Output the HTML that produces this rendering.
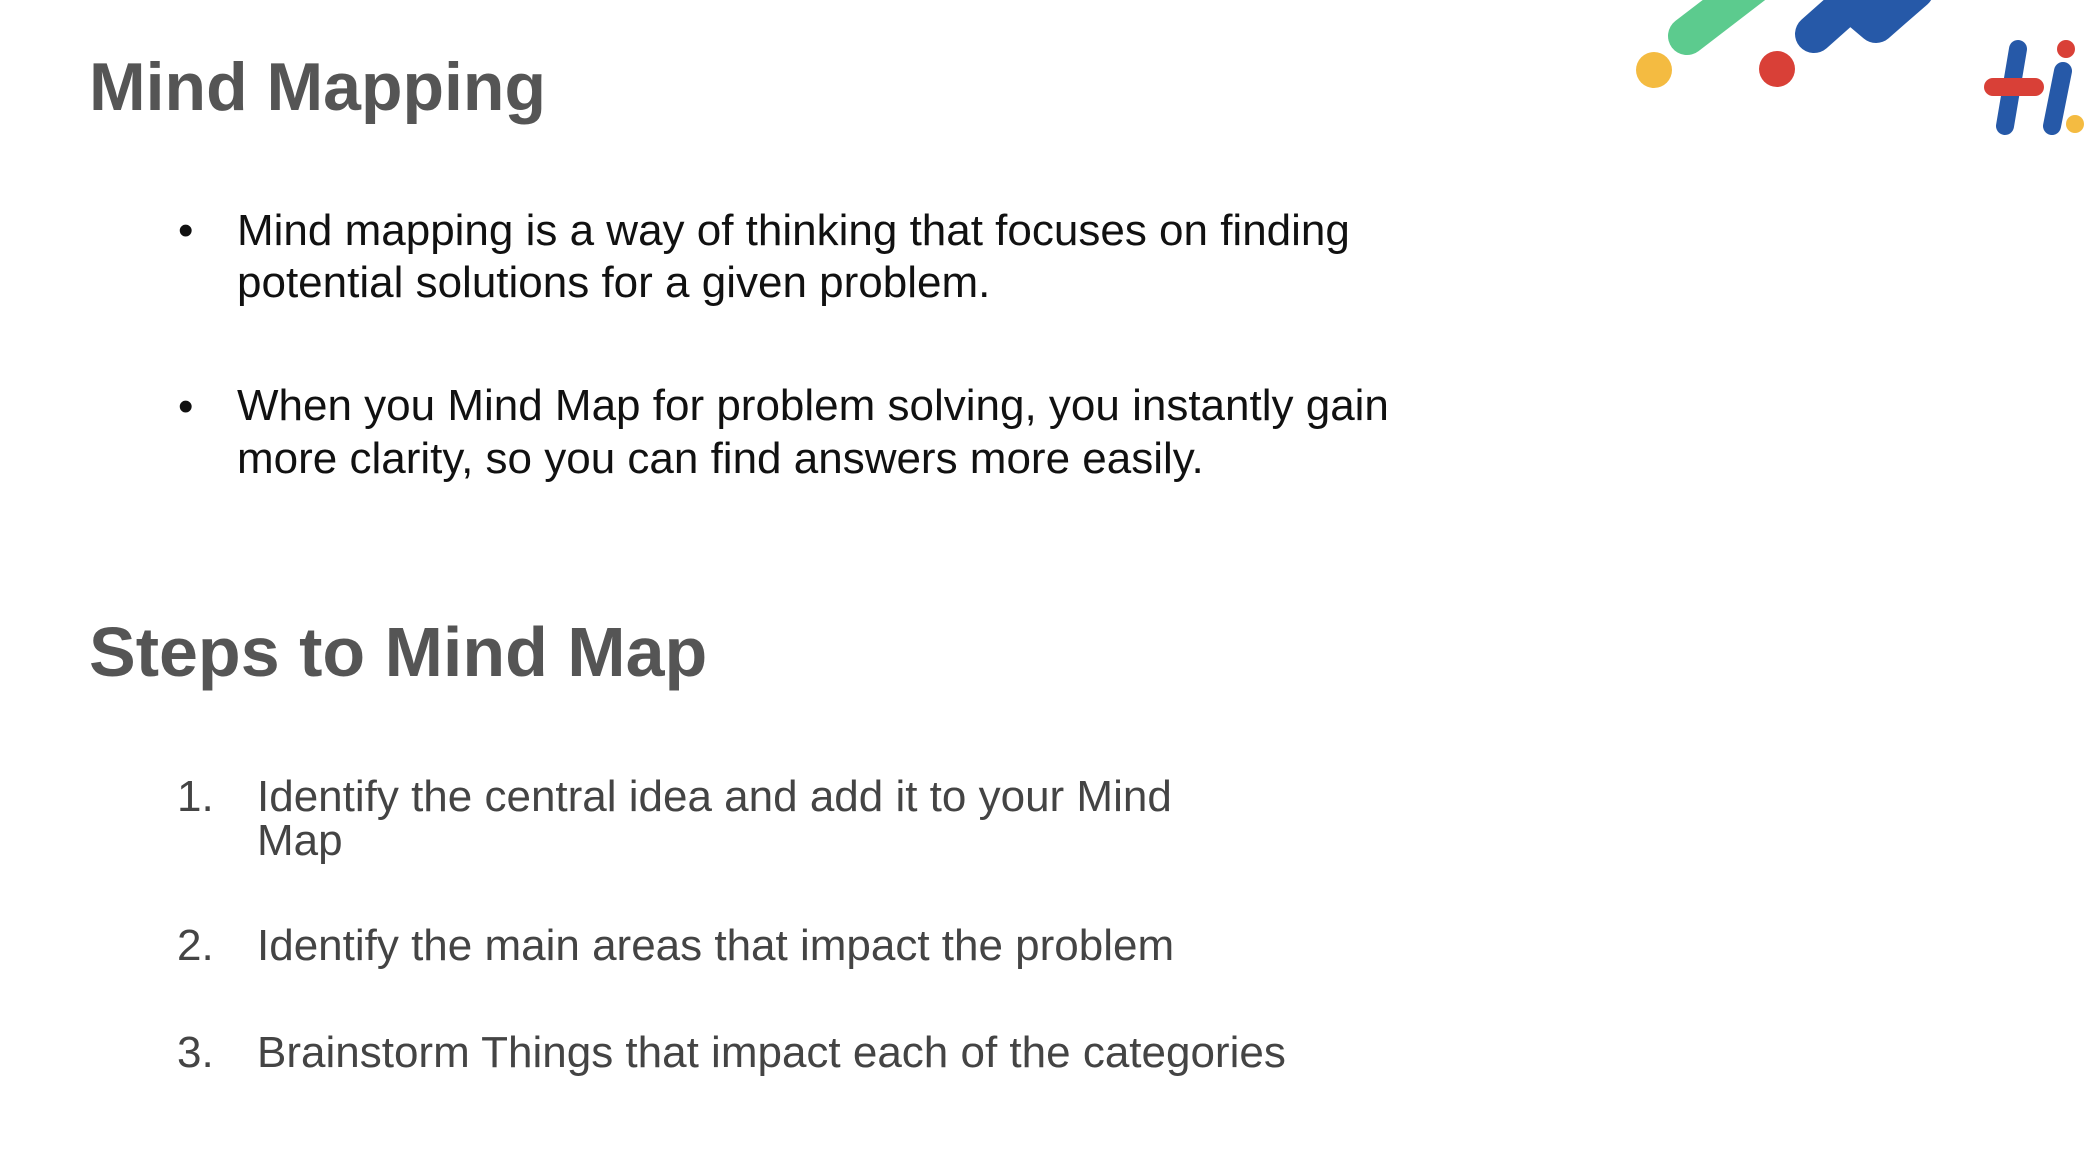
<!DOCTYPE html>
<html><head><meta charset="utf-8"><style>
body{margin:0;width:2088px;height:1174px;background:#fff;position:relative;overflow:hidden;font-family:"Liberation Sans",sans-serif}
.l{position:absolute;white-space:nowrap;line-height:1}
.t{color:#555;font-weight:bold}
.b{color:#111;font-size:44px}
.n{color:#444;font-size:44px}
</style></head><body>
<div class="l t" style="left:89px;top:53px;font-size:68px">Mind Mapping</div>
<div class="l b" style="left:178px;top:209px">•</div>
<div class="l b" style="left:237px;top:209px">Mind mapping is a way of thinking that focuses on finding</div>
<div class="l b" style="left:237px;top:261px">potential solutions for a given problem.</div>
<div class="l b" style="left:178px;top:385px">•</div>
<div class="l b" style="left:237px;top:384px">When you Mind Map for problem solving, you instantly gain</div>
<div class="l b" style="left:237px;top:437px">more clarity, so you can find answers more easily.</div>
<div class="l t" style="left:89px;top:617px;font-size:70px">Steps to Mind Map</div>
<div class="l n" style="left:177px;top:775px">1.</div>
<div class="l n" style="left:257px;top:775px">Identify the central idea and add it to your Mind</div>
<div class="l n" style="left:257px;top:819px">Map</div>
<div class="l n" style="left:177px;top:924px">2.</div>
<div class="l n" style="left:257px;top:924px">Identify the main areas that impact the problem</div>
<div class="l n" style="left:177px;top:1031px">3.</div>
<div class="l n" style="left:257px;top:1031px">Brainstorm Things that impact each of the categories</div>
<svg style="position:absolute;left:0;top:0" width="2088" height="1174">
<circle cx="1654" cy="70" r="18" fill="#f4bb41"/>
<line x1="1687" y1="36" x2="1760" y2="-20" stroke="#5ccb8e" stroke-width="38" stroke-linecap="round"/>
<circle cx="1777" cy="69" r="18" fill="#d94037"/>
<polyline points="1814,34 1850,2 1876,24 1915,-10" fill="none" stroke="#2659a8" stroke-width="38" stroke-linecap="round" stroke-linejoin="round"/>
<line x1="2018" y1="49" x2="2005" y2="126" stroke="#2659a8" stroke-width="18" stroke-linecap="round"/>
<line x1="2063" y1="71" x2="2052" y2="126" stroke="#2659a8" stroke-width="18" stroke-linecap="round"/>
<line x1="1993" y1="87" x2="2035" y2="87" stroke="#d94037" stroke-width="18" stroke-linecap="round"/>
<circle cx="2066" cy="49" r="9" fill="#d94037"/>
<circle cx="2075" cy="124" r="9" fill="#f4bb41"/>
</svg>
</body></html>
